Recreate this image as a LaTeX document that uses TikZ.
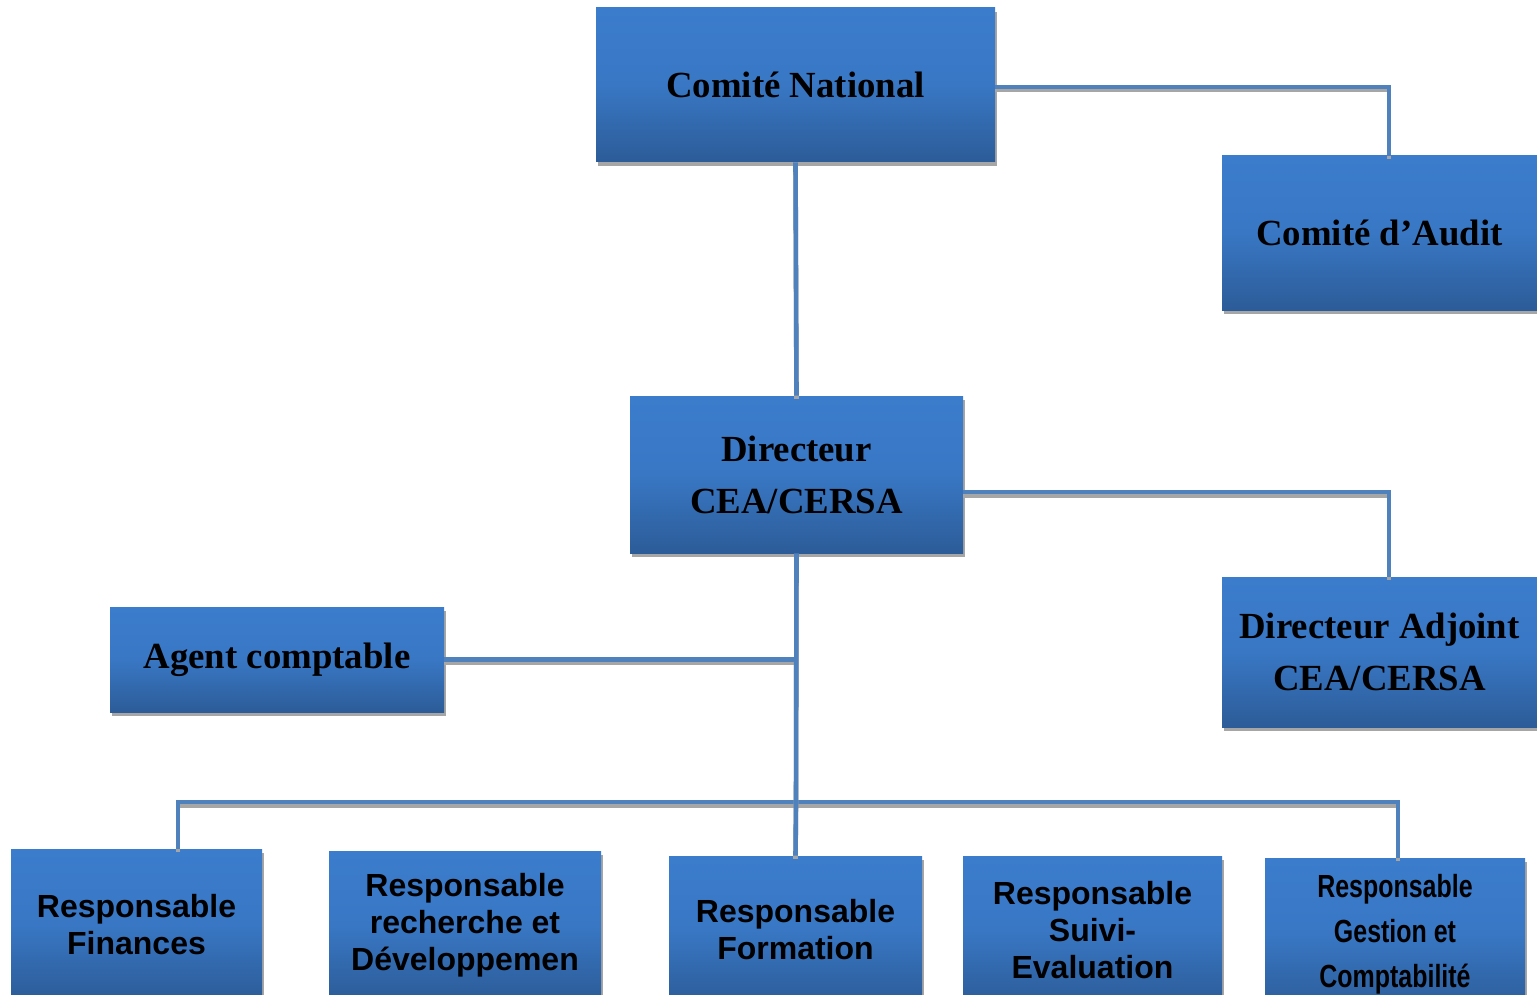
\documentclass[tikz,border=0pt]{standalone}
\usepackage{fontspec}
\setmainfont{Liberation Serif}
\newfontfamily\boxsans{Liberation Sans}
\newfontfamily\boxsanscond[FakeStretch=0.78]{Liberation Sans}
\usepackage{tikz}
\usetikzlibrary{shadows}

\definecolor{boxtop}{RGB}{59,124,204}
\definecolor{boxbot}{RGB}{44,92,152}
\definecolor{linkblue}{RGB}{79,129,189}

\tikzset{
  orgbox/.style={draw=none, inner sep=0pt, align=center, text=black,
    top color=boxtop, bottom color=boxbot, middle color=boxtop!85!boxbot,
    drop shadow={shadow xshift=1pt, shadow yshift=-2pt, fill=black!35, opacity=1}},
  serifbox/.style={orgbox, font=\bfseries\fontsize{18.4}{26}\selectfont},
  sansbox/.style={orgbox, font=\boxsans\bfseries\fontsize{16}{18.5}\selectfont},
  conn/.style={draw=linkblue, line width=2.3pt,
    preaction={draw=black!35, line width=2.3pt, transform canvas={yshift=-1.6pt}}}
}

\begin{document}
\begin{tikzpicture}[x=0.5pt,y=0.5pt,yscale=-1,xscale=1]
    \useasboundingbox (0,0) rectangle (1537,995);

    % Top level
    \node [serifbox, minimum width=199.5pt, minimum height=77pt] (cn) at (795.5,85) {Comité National};
    \node [serifbox, minimum width=157.5pt, minimum height=77pt] (audit) at (1379.5,233) {Comité d’Audit};

    % Direction
    \node [serifbox, minimum width=166.5pt, minimum height=78.5pt] (dir) at (796.5,474.5) {Directeur\\CEA/CERSA};
    \node [serifbox, minimum width=157.5pt, minimum height=75pt] (adj) at (1379.5,652) {Directeur Adjoint\\CEA/CERSA};
    \node [serifbox, minimum width=167pt, minimum height=52.5pt] (agent) at (277,659.5) {Agent comptable};

    % Responsables
    \node [sansbox, minimum width=125.5pt, minimum height=75.5pt] (fin) at (136.5,924.5) {Responsable\\Finances};
    \node [sansbox, minimum width=136pt, minimum height=74.5pt] (rech) at (465,925.5) {Responsable\\recherche et\\Développemen};
    \node [sansbox, minimum width=126.5pt, minimum height=74pt] (form) at (795.5,930) {Responsable\\Formation};
    \node [sansbox, minimum width=129.5pt, minimum height=74pt] (suivi) at (1092.5,930) {Responsable\\Suivi-\\Evaluation};
    \node [orgbox, font=\boxsanscond\bfseries\fontsize{16}{22.5}\selectfont,
           minimum width=130pt, minimum height=76pt] (gest) at (1395,934) {Responsable\\Gestion et\\Comptabilité};

    % Connectors
    \coordinate (busL) at (178,802);
    \coordinate (busM) at (796,802);
    \coordinate (busR) at (1398,802);
    \draw [conn] ([yshift=1pt]cn.east) -| ([xshift=4.75pt]audit.north);
    \draw [conn] (cn.south) -- (dir.north);
    \draw [conn] ([yshift=8.75pt]dir.east) -| ([xshift=4.75pt]adj.north);
    \draw [conn] (agent.east) -- (agent.east -| busM);
    \draw [conn] (fin.north -| busL) -- (busL) -- (busR) -- (gest.north -| busR);
    \draw [conn] (dir.south) -- (busM) -- (form.north);

\end{tikzpicture}
\end{document}
